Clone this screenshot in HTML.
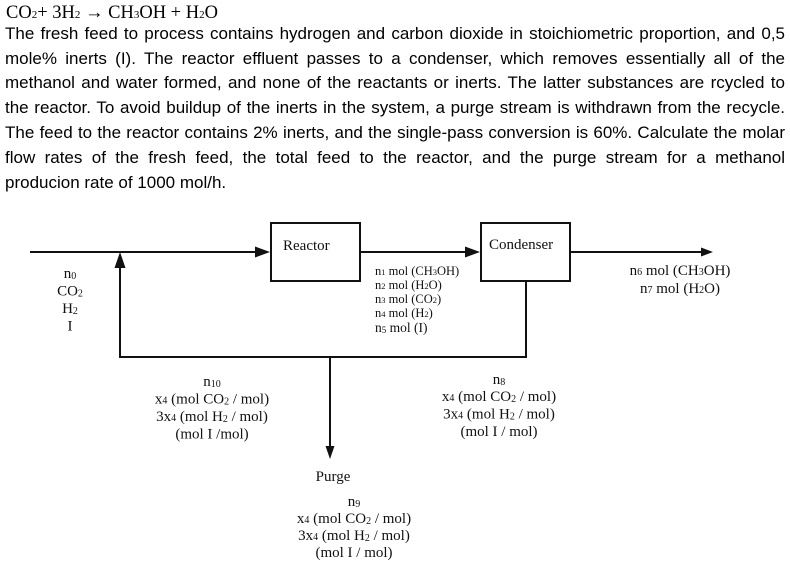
<!DOCTYPE html>
<html><head><meta charset="utf-8">
<style>
html,body{margin:0;padding:0;background:#fff;}
body{width:790px;height:564px;position:relative;overflow:hidden;}
.eq{position:absolute;left:6px;top:4px;font-family:"Liberation Serif",serif;font-size:18.5px;line-height:18.5px;color:#000;white-space:nowrap;}
.eq .s{font-size:11px;}
.ln{position:absolute;left:5px;width:780px;font-family:"Liberation Sans",sans-serif;font-size:17px;line-height:24.8px;height:24.8px;color:#000;text-align:justify;text-align-last:justify;}
.ln.last{text-align:left;text-align-last:left;}
svg{position:absolute;left:0;top:0;}
</style></head><body>
<div class="eq">CO<span class="s">2</span>+ 3H<span class="s">2</span> → CH<span class="s">3</span>OH + H<span class="s">2</span>O</div>
<div class="ln" style="top:21.7px">The fresh feed to process contains hydrogen and carbon dioxide in stoichiometric proportion, and 0,5</div>
<div class="ln" style="top:46.5px">mole% inerts (I). The reactor effluent passes to a condenser, which removes essentially all of the</div>
<div class="ln" style="top:71.3px">methanol and water formed, and none of the reactants or inerts. The latter substances are rcycled to</div>
<div class="ln" style="top:96.1px">the reactor. To avoid buildup of the inerts in the system, a purge stream is withdrawn from the recycle.</div>
<div class="ln" style="top:120.9px">The feed to the reactor contains 2% inerts, and the single-pass conversion is 60%. Calculate the molar</div>
<div class="ln" style="top:145.7px">flow rates of the fresh feed, the total feed to the reactor, and the purge stream for a methanol</div>
<div class="ln last" style="top:170.5px">producion rate of 1000 mol/h.</div>

<svg width="790" height="564" viewBox="0 0 790 564" xmlns="http://www.w3.org/2000/svg">
<g stroke="#111" stroke-width="2" fill="none">
  <line x1="30" y1="252" x2="257" y2="252"/>
  <rect x="271" y="223" width="89" height="58"/>
  <line x1="360" y1="252" x2="467" y2="252"/>
  <rect x="481" y="223" width="89" height="58"/>
  <line x1="570" y1="252" x2="703" y2="252"/>
  <polyline points="526,281 526,357 120,357 120,266"/>
  <line x1="330" y1="357" x2="330" y2="448"/>
</g>
<g fill="#111">
  <polygon points="255,246.5 270,252 255,257.5"/>
  <polygon points="465,246.5 480,252 465,257.5"/>
  <polygon points="701,247.5 713,252 701,256.5"/>
  <polygon points="114.5,268 120,252 125.5,268"/>
  <polygon points="325.5,446 330,459 334.5,446"/>
</g>
<g font-family="Liberation Serif, serif" fill="#111">
  <text x="283" y="250" font-size="15">Reactor</text>
  <text x="489" y="249" font-size="15">Condenser</text>

  <g font-size="15" text-anchor="middle">
    <text x="70" y="278">n<tspan font-size="10" dy="1">0</tspan></text>
    <text x="70" y="295.5">CO<tspan font-size="10" dy="1">2</tspan></text>
    <text x="70" y="313">H<tspan font-size="10" dy="1">2</tspan></text>
    <text x="70" y="330.5">I</text>
  </g>

  <g font-size="12.5">
    <text x="375" y="275">n<tspan font-size="8.5">1</tspan> mol (CH<tspan font-size="8.5">3</tspan>OH)</text>
    <text x="375" y="289">n<tspan font-size="8.5">2</tspan> mol (H<tspan font-size="8.5">2</tspan>O)</text>
    <text x="375" y="303">n<tspan font-size="8.5">3</tspan> mol (CO<tspan font-size="8.5">2</tspan>)</text>
    <text x="375" y="317">n<tspan font-size="8.5">4</tspan> mol (H<tspan font-size="8.5">2</tspan>)</text>
    <text x="375" y="332" font-size="13.5">n<tspan font-size="9" dy="1">5</tspan><tspan dy="-1"> mol (I)</tspan></text>
  </g>

  <g font-size="15" text-anchor="middle">
    <text x="680" y="275">n<tspan font-size="10">6</tspan> mol (CH<tspan font-size="10">3</tspan>OH)</text>
    <text x="680" y="293">n<tspan font-size="10">7</tspan> mol (H<tspan font-size="10">2</tspan>O)</text>
  </g>

  <g font-size="15" text-anchor="middle">
    <text x="212" y="386">n<tspan font-size="10" dy="1">10</tspan></text>
    <text x="212" y="403.5">x<tspan font-size="10">4</tspan> (mol CO<tspan font-size="10" dy="1">2</tspan><tspan dy="-1"> / mol)</tspan></text>
    <text x="212" y="421">3x<tspan font-size="10">4</tspan> (mol H<tspan font-size="10" dy="1">2</tspan><tspan dy="-1"> / mol)</tspan></text>
    <text x="212" y="438.5">(mol I /mol)</text>
  </g>

  <g font-size="15" text-anchor="middle">
    <text x="499" y="384">n<tspan font-size="10" dy="1">8</tspan></text>
    <text x="499" y="401">x<tspan font-size="10">4</tspan> (mol CO<tspan font-size="10" dy="1">2</tspan><tspan dy="-1"> / mol)</tspan></text>
    <text x="499" y="418.5">3x<tspan font-size="10">4</tspan> (mol H<tspan font-size="10" dy="1">2</tspan><tspan dy="-1"> / mol)</tspan></text>
    <text x="499" y="436">(mol I / mol)</text>
  </g>

  <text x="333" y="481" font-size="15" text-anchor="middle">Purge</text>

  <g font-size="15" text-anchor="middle">
    <text x="354" y="506">n<tspan font-size="10" dy="1">9</tspan></text>
    <text x="354" y="523">x<tspan font-size="10">4</tspan> (mol CO<tspan font-size="10" dy="1">2</tspan><tspan dy="-1"> / mol)</tspan></text>
    <text x="354" y="540">3x<tspan font-size="10">4</tspan> (mol H<tspan font-size="10" dy="1">2</tspan><tspan dy="-1"> / mol)</tspan></text>
    <text x="354" y="557">(mol I / mol)</text>
  </g>
</g>
</svg>
</body></html>
